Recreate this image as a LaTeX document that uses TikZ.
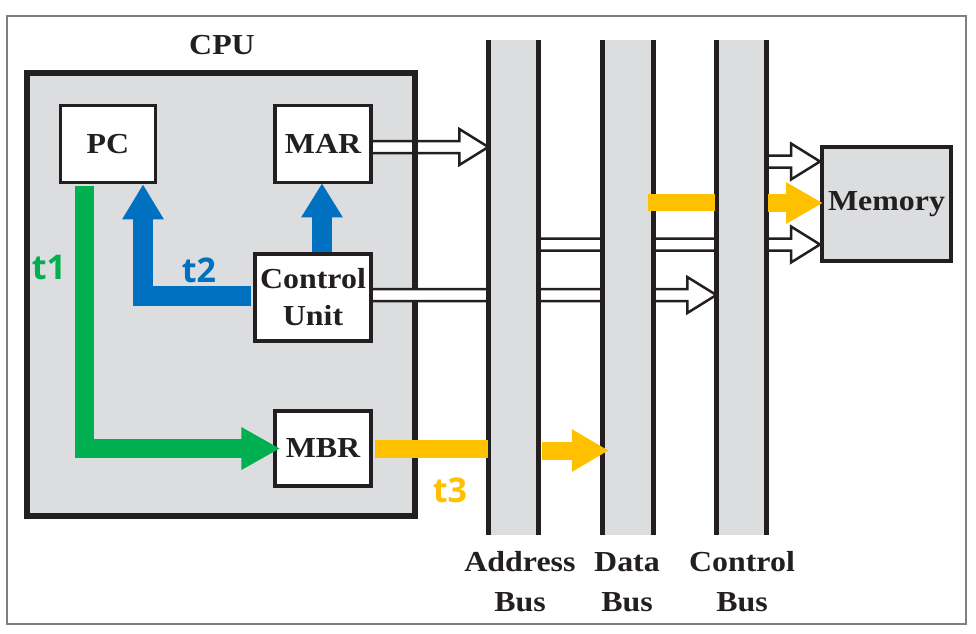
\documentclass[tikz,border=0pt]{standalone}
\usepackage{fontspec}
\setmainfont{Liberation Serif}[FakeStretch=1.1]
\newfontfamily\tfont{Open Sans}
\usetikzlibrary{arrows.meta,calc}
\definecolor{busgray}{HTML}{DCDDDF}
\definecolor{inkblack}{HTML}{231F20}
\definecolor{tgreen}{HTML}{00B050}
\definecolor{tblue}{HTML}{0070C0}
\definecolor{torange}{HTML}{FFC000}
\definecolor{framegray}{HTML}{808080}
\pgfdeclarelayer{back}
\pgfdeclarelayer{arrA}
\pgfdeclarelayer{cpuborder}
\pgfdeclarelayer{arrB}
\pgfsetlayers{back,arrA,cpuborder,arrB,main}
\newcommand\openarr[2]{%
  \filldraw[openarrow]
  let \p1=(#1), \p2=(#2) in
  (\x1,\y2+6) -- (\x2-29,\y2+6) -- (\x2-29,\y2+18) -- (\x2,\y2)
  -- (\x2-29,\y2-18) -- (\x2-29,\y2-6) -- (\x1,\y2-6);}
\begin{document}
\begin{tikzpicture}[x=1pt,y=-1pt,
  lbl/.style={font=\fontsize{29}{37}\selectfont\bfseries, text=inkblack, align=center},
  buslbl/.style={font=\fontsize{29}{40}\selectfont\bfseries, text=inkblack, align=center},
  regbox/.style={draw=inkblack, line width=3.5pt, fill=white, inner sep=0pt, lbl},
  busfill/.style={fill=busgray, minimum width=50pt, minimum height=495pt, inner sep=0pt},
  busline/.style={draw=inkblack, line width=5pt},
  openarrow/.style={fill=white, draw=inkblack, line width=2.5pt, line join=miter},
  tlbl/.style={font=\fontsize{34}{40}\selectfont\tfont\bfseries}]
\useasboundingbox (0,0) rectangle (976,633);
% frame
\begin{pgfonlayer}{back}
\draw[framegray, line width=2pt] (7,16) rectangle (966,624);
\end{pgfonlayer}
% CPU
\node[minimum width=388pt, minimum height=443pt, inner sep=0pt] (cpu) at (221,294.5) {};
\begin{pgfonlayer}{back}
\fill[busgray] (cpu.north west) rectangle (cpu.south east);
\end{pgfonlayer}
\begin{pgfonlayer}{cpuborder}
\draw[inkblack, line width=6pt] (cpu.north west) rectangle (cpu.south east);
\end{pgfonlayer}
\node[lbl] (cpulbl) at (222,45) {CPU};
% registers
\node[regbox, minimum width=95pt, minimum height=77pt] (pc) at (108,144) {PC};
\node[regbox, minimum width=96pt, minimum height=77pt] (mar) at (323,144) {MAR};
\node[regbox, minimum width=116pt, minimum height=87pt] (cu) at (313,297.5) {Control\\Unit};
\node[regbox, minimum width=96pt, minimum height=75pt] (mbr) at (323,448.5) {MBR};
% buses
\node[busfill] (abus) at (513.5,287.5) {};
\node[busfill] (dbus) at (628,287.5) {};
\node[busfill] (cbus) at (741.5,287.5) {};
\foreach \b in {abus,dbus,cbus}{
  \draw[busline] (\b.north west) -- (\b.south west);
  \draw[busline] (\b.north east) -- (\b.south east);
}
\node[buslbl] (alab) at (520,582) {Address\\Bus};
\node[buslbl] (dlab) at (627,582) {Data\\Bus};
\node[buslbl] (clab) at (742,582) {Control\\Bus};
% memory
\node[draw=inkblack, line width=4pt, fill=busgray, minimum width=129pt, minimum height=114pt, inner sep=0pt, lbl] (mem) at (886.5,204) {Memory};
% open arrows
\coordinate (marA) at ($(mar.east)+(0,3)$);
\coordinate (cuA) at ($(cu.east)+(0,-2.5)$);
\coordinate (memT) at ($(mem.west)+(0,-42.5)$);
\coordinate (memL) at ($(mem.west)+(0,40.5)$);
\begin{pgfonlayer}{arrA}
\openarr{marA}{abus.west |- marA}
\end{pgfonlayer}
\begin{pgfonlayer}{arrB}
\openarr{cuA}{cbus.west |- cuA}
\openarr{cbus.east |- memT}{memT}
\openarr{abus.east |- memL}{memL}
\end{pgfonlayer}
% coloured arrows
\draw[tgreen, line width=19pt, line join=miter, -{Triangle[length=39pt,width=40pt]}]
  ($(pc.south)+(-24,2)$) |- ($(mbr.west)+(7,0)$);
\draw[tblue, line width=20pt, line join=miter, -{Triangle[length=35pt,width=39pt]}]
  ($(cu.west)+(-2,-2)$) -| ($(pc.south)+(35,0)$);
\draw[tblue, line width=20pt, -{Triangle[length=34pt,width=39pt]}]
  ($(mar.south |- cu.north)+(-1,0)$) -- ($(mar.south)+(-1,-1)$);
\draw[torange, line width=18pt] ($(mbr.east)+(2,0)$) -- ($(abus.west |- mbr.east)+(0,0)$);
\draw[torange, line width=18pt, -{Triangle[length=37pt,width=40pt]}]
  ($(abus.east |- mbr.east)+(3.5,2)$) -- ($(dbus.west |- mbr.east)+(6,2)$);
\draw[torange, line width=17pt] ($(dbus.east |- mem.west)+(-5,-2)$) -- ($(cbus.west |- mem.west)+(-1.5,-2)$);
\draw[torange, line width=18pt, -{Triangle[length=37pt,width=39pt]}]
  ($(cbus.east |- mem.west)+(1.5,-1)$) -- ($(mem.west)+(3,-1)$);
% step labels
\node[tlbl, text=tgreen] (t1) at (49,268) {t1};
\node[tlbl, text=tblue] (t2) at (199,270) {t2};
\node[tlbl, text=torange] (t3) at (450,490) {t3};
\end{tikzpicture}
\end{document}
